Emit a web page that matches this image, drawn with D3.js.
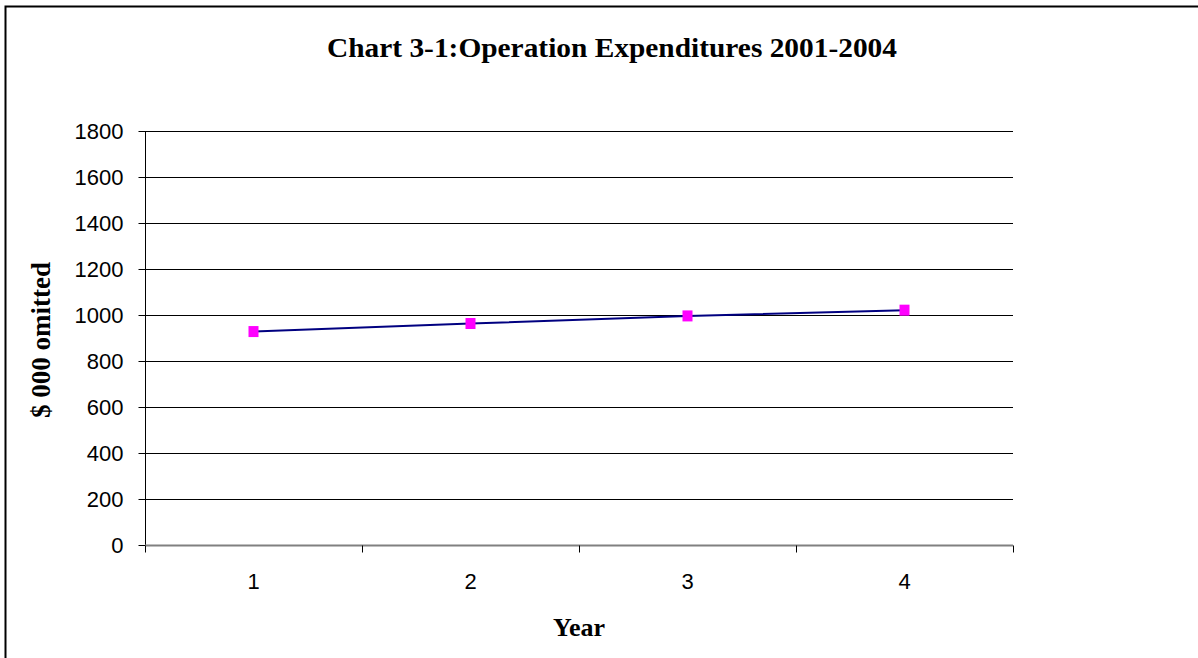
<!DOCTYPE html>
<html><head><meta charset="utf-8">
<script src="https://cdn.jsdelivr.net/npm/d3@7"></script>
<style>html,body{margin:0;padding:0;background:#fff;}svg{display:block;}</style>
</head><body>
<svg id="chart" width="1198" height="658"></svg>
<script>
const categories = ["1", "2", "3", "4"];
const values = [928, 963, 996, 1021];
const yTicks = [0, 200, 400, 600, 800, 1000, 1200, 1400, 1600, 1800];
const titleText = "Chart 3-1:Operation Expenditures 2001-2004";
const xTitle = "Year";
const yTitle = "$ 000 omitted";

const svg = d3.select("#chart");
const L = 145, R = 1013, T = 131, B = 545;

svg.append("rect").attr("x", 5.5).attr("y", 6.5).attr("width", 1300).attr("height", 700)
  .attr("fill", "none").attr("stroke", "#000").attr("stroke-width", 2);

const x = d3.scaleBand().domain(categories).range([L, R]).padding(0);
const y = d3.scaleLinear().domain([0, 1800]).range([B, T]);

// gridlines
svg.append("g").selectAll("line").data(yTicks.filter(d => d > 0)).join("line")
  .attr("x1", L).attr("x2", R)
  .attr("y1", d => Math.round(y(d)) + 0.5).attr("y2", d => Math.round(y(d)) + 0.5)
  .attr("stroke", "#000").attr("stroke-width", 1);

// y axis
const yAxis = svg.append("g").attr("transform", `translate(${L + 0.5},0)`)
  .call(d3.axisLeft(y).tickValues(yTicks).tickSize(7).tickPadding(15).tickFormat(d3.format("d")));
yAxis.attr("font-size", null).attr("font-family", null);
yAxis.select(".domain").attr("stroke", "#000").attr("d", `M0,${T}V${B}`);
yAxis.selectAll(".tick line").attr("stroke", "#000");
yAxis.selectAll(".tick").attr("transform", d => `translate(0,${Math.round(y(d)) + 0.5})`);
yAxis.selectAll("text").style("font-family", "'Liberation Sans', Arial, sans-serif")
  .style("font-size", "22px").attr("fill", "#000").attr("dy", "0.35em");

// x axis
const xAxis = svg.append("g").attr("transform", `translate(0,${B + 0.5})`)
  .call(d3.axisBottom(x).tickSize(0).tickPadding(28));
xAxis.attr("font-size", null).attr("font-family", null);
xAxis.select(".domain").attr("stroke", "#808080").attr("stroke-width", 2).attr("d", `M${L},0H${R}`);
xAxis.selectAll("text").style("font-family", "'Liberation Sans', Arial, sans-serif")
  .style("font-size", "22px").attr("fill", "#000").attr("dy", null).attr("y", 43);
// category boundary ticks
const bounds = categories.map(c => x(c)).concat([x(categories[categories.length - 1]) + x.bandwidth()]);
xAxis.append("g").selectAll("line").data(bounds).join("line")
  .attr("x1", d => Math.round(d) + 0.5).attr("x2", d => Math.round(d) + 0.5)
  .attr("y1", 0).attr("y2", 7).attr("stroke", "#000");

// line
const cx = d => x(d) + x.bandwidth() / 2;
svg.append("path").datum(values.map((v, i) => [cx(categories[i]), y(v)]))
  .attr("d", d3.line()).attr("fill", "none").attr("stroke", "#000080").attr("stroke-width", 2);

// markers
svg.append("g").selectAll("rect").data(values).join("rect")
  .attr("x", (d, i) => cx(categories[i]) - 5).attr("y", d => y(d) - 5.5)
  .attr("width", 10).attr("height", 11).attr("fill", "#ff00ff");

// titles
svg.append("text").attr("x", 612).attr("y", 57).attr("text-anchor", "middle")
  .style("font-family", "'Liberation Serif', 'Times New Roman', serif").attr("font-weight", "bold")
  .style("font-size", "28px").attr("textLength", 570).attr("lengthAdjust", "spacingAndGlyphs").text(titleText);
svg.append("text").attr("x", 579).attr("y", 636).attr("text-anchor", "middle")
  .style("font-family", "'Liberation Serif', 'Times New Roman', serif").attr("font-weight", "bold")
  .style("font-size", "26px").text(xTitle);
svg.append("text").attr("transform", "translate(50,340) rotate(-90)").attr("text-anchor", "middle")
  .style("font-family", "'Liberation Serif', 'Times New Roman', serif").attr("font-weight", "bold")
  .style("font-size", "27px").text(yTitle);
</script>
</body></html>
